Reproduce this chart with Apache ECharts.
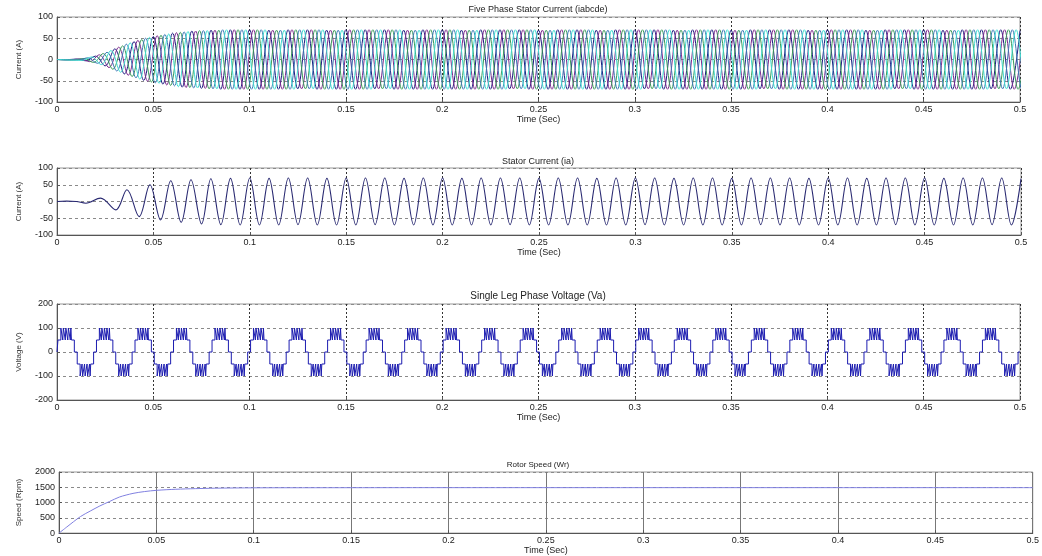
<!DOCTYPE html>
<html>
<head>
<meta charset="utf-8">
<script src="https://cdn.jsdelivr.net/npm/echarts@6/dist/echarts.min.js"></script>
<style>
html,body{margin:0;padding:0;background:#fff;}
#chart{width:1042px;height:556px;}
</style>
</head>
<body>
<div id="chart"></div>
<script>
// ---------------- data ----------------
const timeTicks = ['0','0.05','0.1','0.15','0.2','0.25','0.3','0.35','0.4','0.45','0.5'];
const currentTicks = [-100, -50, 0, 50, 100];
const voltageTicks = [-200, -100, 0, 100, 200];
const speedTicks = [0, 500, 1000, 1500, 2000];

// Stator current ia: extrema (peaks / troughs) times and values
const iaTimes = [0, 0.005, 0.010, 0.0150, 0.0226, 0.0305, 0.0363, 0.0426, 0.0482, 0.0537, 0.0590, 0.0644, 0.0695, 0.0750, 0.0798, 0.0850, 0.0900, 0.0950,
  0.100, 0.105, 0.110, 0.115, 0.120, 0.125, 0.130, 0.135, 0.140, 0.145, 0.150, 0.155, 0.160, 0.165, 0.170, 0.175, 0.180, 0.185, 0.190, 0.195,
  0.200, 0.205, 0.210, 0.215, 0.220, 0.225, 0.230, 0.235, 0.240, 0.245, 0.250, 0.255, 0.260, 0.265, 0.270, 0.275, 0.280, 0.285, 0.290, 0.295,
  0.300, 0.305, 0.310, 0.315, 0.320, 0.325, 0.330, 0.335, 0.340, 0.345, 0.350, 0.355, 0.360, 0.365, 0.370, 0.375, 0.380, 0.385, 0.390, 0.395,
  0.400, 0.405, 0.410, 0.415, 0.420, 0.425, 0.430, 0.435, 0.440, 0.445, 0.450, 0.455, 0.460, 0.465, 0.470, 0.475, 0.480, 0.485, 0.490, 0.495, 0.500];
const iaValues = [0, 1, 0, -5, 10, -25, 35, -45, 50, -55, 62, -62, 65, -67, 68, -69, 69, -70,
  70, -70, 69, -70, 70, -69, 70, -70, 69, -70, 70, -70, 70, -69, 70, -70, 69, -70, 70, -70,
  70, -70, 69, -70, 70, -70, 70, -69, 70, -70, 69, -70, 70, -70, 70, -70, 69, -70, 70, -70,
  70, -69, 70, -70, 69, -70, 70, -70, 70, -70, 69, -70, 70, -69, 70, -70, 70, -70, 69, -70,
  70, -70, 70, -70, 69, -70, 70, -69, 70, -70, 70, -70, 69, -70, 70, -70, 70, -69, 70, -70, 68];
const iaSteadyStart = 18; // index in iaTimes where the steady 100 Hz part begins (t = 0.1)

// Five phase currents: start-up extrema per phase (envelope),
// then the steady extrema of ia, each phase delayed by 72 deg of the 10 ms period
const phaseNames = ['ia', 'ib', 'ic', 'id', 'ie'];
const phaseDelays = [0, 0.002, 0.004, 0.006, 0.008];
const fiveTransTimes = [0.005, 0.010, 0.015, 0.020, 0.025, 0.030, 0.035, 0.040, 0.045, 0.050,
  0.055, 0.060, 0.065, 0.070, 0.075, 0.080, 0.085, 0.090, 0.095];
const fiveTransValues = [
  [-0.5, 1, -3, 8, -15, 25, -34, 42, -49, 54, -58, 62, -65, 67, -68, 69, -70, 70, -70],
  [-0.7, 1.5, -5, 11, -19, 29, -37, 45, -51, 56, -60, 63, -66, 67, -68, 69, -70, 70, -70],
  [-1, 2.5, -7, 14, -23, 32, -40, 47, -53, 57, -61, 64, -66, 68, -69, 69, -70, 70, -70],
  [-1.2, 4, -9, 17, -27, 36, -43, 50, -55, 59, -62, 65, -67, 68, -69, 70, -70, 70, -70],
  [-2, 6, -12, 21, -30, 39, -46, 52, -56, 60, -64, 66, -67, 68, -69, 70, -70, 70, -70]
];

// Single leg phase voltage: switching pattern of one 20 ms period (repeats)
const vaCycleTimes = [0, 0.0005, 0.0020, 0.0030, 0.0033, 0.0043, 0.0046, 0.0056, 0.0059, 0.0069, 0.0072, 0.0075, 0.0090,
  0.0105, 0.0120, 0.0130, 0.0133, 0.0143, 0.0146, 0.0156, 0.0159, 0.0169, 0.0172, 0.0175, 0.0190];
const vaCycleLevels = [0, 50, 100, 50, 100, 50, 100, 50, 100, 50, 100, 50, 0,
  -50, -100, -50, -100, -50, -100, -50, -100, -50, -100, -50, 0];
const vaPeriod = 0.02;
const vaCycles = 25;

// Rotor speed
const speedTimes = [0, 0.004, 0.011, 0.016, 0.021, 0.026, 0.031, 0.038, 0.044, 0.050, 0.060, 0.070, 0.080, 0.100, 0.150, 0.200, 0.300, 0.400, 0.500];
const speedValues = [0, 200, 540, 720, 890, 1035, 1180, 1300, 1360, 1400, 1435, 1455, 1470, 1482, 1486, 1488, 1488, 1488, 1488];

// ---------------- build ----------------
const zip = (xs, ys) => xs.map((x, i) => [x, ys[i]]);
const iaData = zip(iaTimes, iaValues);
const phaseData = phaseDelays.map((d, k) => [[0, 0]]
  .concat(fiveTransTimes.map((t, i) => [t + d, fiveTransValues[k][i]]))
  .concat(iaTimes.slice(iaSteadyStart).map((t, i) => [t + d, iaValues[iaSteadyStart + i]])));
const vaData = [];
for (let c = 0; c < vaCycles; c++) {
  vaCycleTimes.forEach((t, i) => vaData.push([c * vaPeriod + t, vaCycleLevels[i]]));
}
vaData.push([vaCycles * vaPeriod, 0]);
const speedData = zip(speedTimes, speedValues);

const FONT = 'Liberation Sans';
const phaseColors = ['#1c1c80', '#7a2a8c', '#3a9a5a', '#3c78b4', '#40dcd0'];

function xAxisCfg(gi, vSplitType, vSplitColor) {
  return {
    type: 'value', gridIndex: gi, min: 0, max: 0.5, interval: 0.05,
    name: 'Time (Sec)', nameLocation: 'middle', nameGap: 11,
    nameTextStyle: { fontFamily: FONT, fontSize: 9, color: '#222' },
    axisLine: { show: true, onZero: false, lineStyle: { color: '#555', width: 1 } },
    axisTick: { show: true, inside: true, length: 3, lineStyle: { color: '#555' } },
    axisLabel: { fontFamily: FONT, fontSize: 9, color: '#222', margin: 3,
      formatter: v => timeTicks[Math.round(v / 0.05)] },
    splitLine: { show: true, lineStyle: { color: vSplitColor, type: vSplitType, width: 1 } }
  };
}
function yAxisCfg(gi, ticks, name, gap) {
  return {
    type: 'value', gridIndex: gi, min: ticks[0], max: ticks[ticks.length - 1],
    interval: ticks[1] - ticks[0],
    name: name, nameLocation: 'middle', nameRotate: 90, nameGap: gap,
    nameTextStyle: { fontFamily: FONT, fontSize: 8, color: '#333' },
    axisLine: { show: true, lineStyle: { color: '#555', width: 1 } },
    axisTick: { show: true, inside: true, length: 3, lineStyle: { color: '#555' } },
    axisLabel: { fontFamily: FONT, fontSize: 9, color: '#222', margin: 4,
      formatter: v => String(ticks[Math.round((v - ticks[0]) / (ticks[1] - ticks[0]))]) },
    splitLine: { show: true, lineStyle: { color: '#8a8a8a', type: [3, 3], width: 1 } }
  };
}
const gridStyle = { show: true, borderColor: '#999', borderWidth: 1, backgroundColor: 'transparent' };

const series = [];
phaseNames.forEach((n, k) => series.push({
  name: n, type: 'line', xAxisIndex: 0, yAxisIndex: 0, data: phaseData[k],
  showSymbol: false, smooth: 0.36, clip: true,
  lineStyle: { color: phaseColors[k], width: 1 }
}));
series.push({ name: 'ia', type: 'line', xAxisIndex: 1, yAxisIndex: 1, data: iaData,
  showSymbol: false, smooth: 0.36, clip: true, lineStyle: { color: '#2a2a72', width: 1.1 } });
series.push({ name: 'Va', type: 'line', xAxisIndex: 2, yAxisIndex: 2, data: vaData,
  showSymbol: false, step: 'end', clip: true, lineStyle: { color: '#1c1cb0', width: 1 } });
series.push({ name: 'Wr', type: 'line', xAxisIndex: 3, yAxisIndex: 3, data: speedData,
  showSymbol: false, smooth: 0.3, clip: true, lineStyle: { color: '#8080e0', width: 1 } });

const option = {
  animation: false,
  backgroundColor: '#fff',
  grid: [
    Object.assign({ left: 57, top: 17, width: 963, height: 85 }, gridStyle),
    Object.assign({ left: 57, top: 168, width: 964, height: 67 }, gridStyle),
    Object.assign({ left: 57, top: 304, width: 963, height: 96 }, gridStyle),
    Object.assign({ left: 59, top: 472, width: 975, height: 68 }, gridStyle)
  ],
  xAxis: [
    xAxisCfg(0, [2, 2], '#333'),
    xAxisCfg(1, [2, 2], '#333'),
    xAxisCfg(2, [2, 2], '#333'),
    xAxisCfg(3, 'solid', '#777')
  ],
  yAxis: [
    yAxisCfg(0, currentTicks, 'Current (A)', 34),
    yAxisCfg(1, currentTicks, 'Current (A)', 34),
    yAxisCfg(2, voltageTicks, 'Voltage (V)', 34),
    yAxisCfg(3, speedTicks, 'Speed (Rpm)', 36)
  ],
  graphic: [
    { type: 'text', x: 538, y: 5, style: { text: 'Five Phase Stator Current (iabcde)', textAlign: 'center', font: '9px "Liberation Sans"', fill: '#222' } },
    { type: 'text', x: 538, y: 157, style: { text: 'Stator Current (ia)', textAlign: 'center', font: '9px "Liberation Sans"', fill: '#222' } },
    { type: 'text', x: 538, y: 291, style: { text: 'Single Leg Phase Voltage (Va)', textAlign: 'center', font: '10px "Liberation Sans"', fill: '#222' } },
    { type: 'text', x: 538, y: 461, style: { text: 'Rotor Speed (Wr)', textAlign: 'center', font: '8px "Liberation Sans"', fill: '#222' } }
  ],
  series: series
};

const chart = echarts.init(document.getElementById('chart'), null, { renderer: 'canvas' });
chart.setOption(option);
</script>
</body>
</html>
